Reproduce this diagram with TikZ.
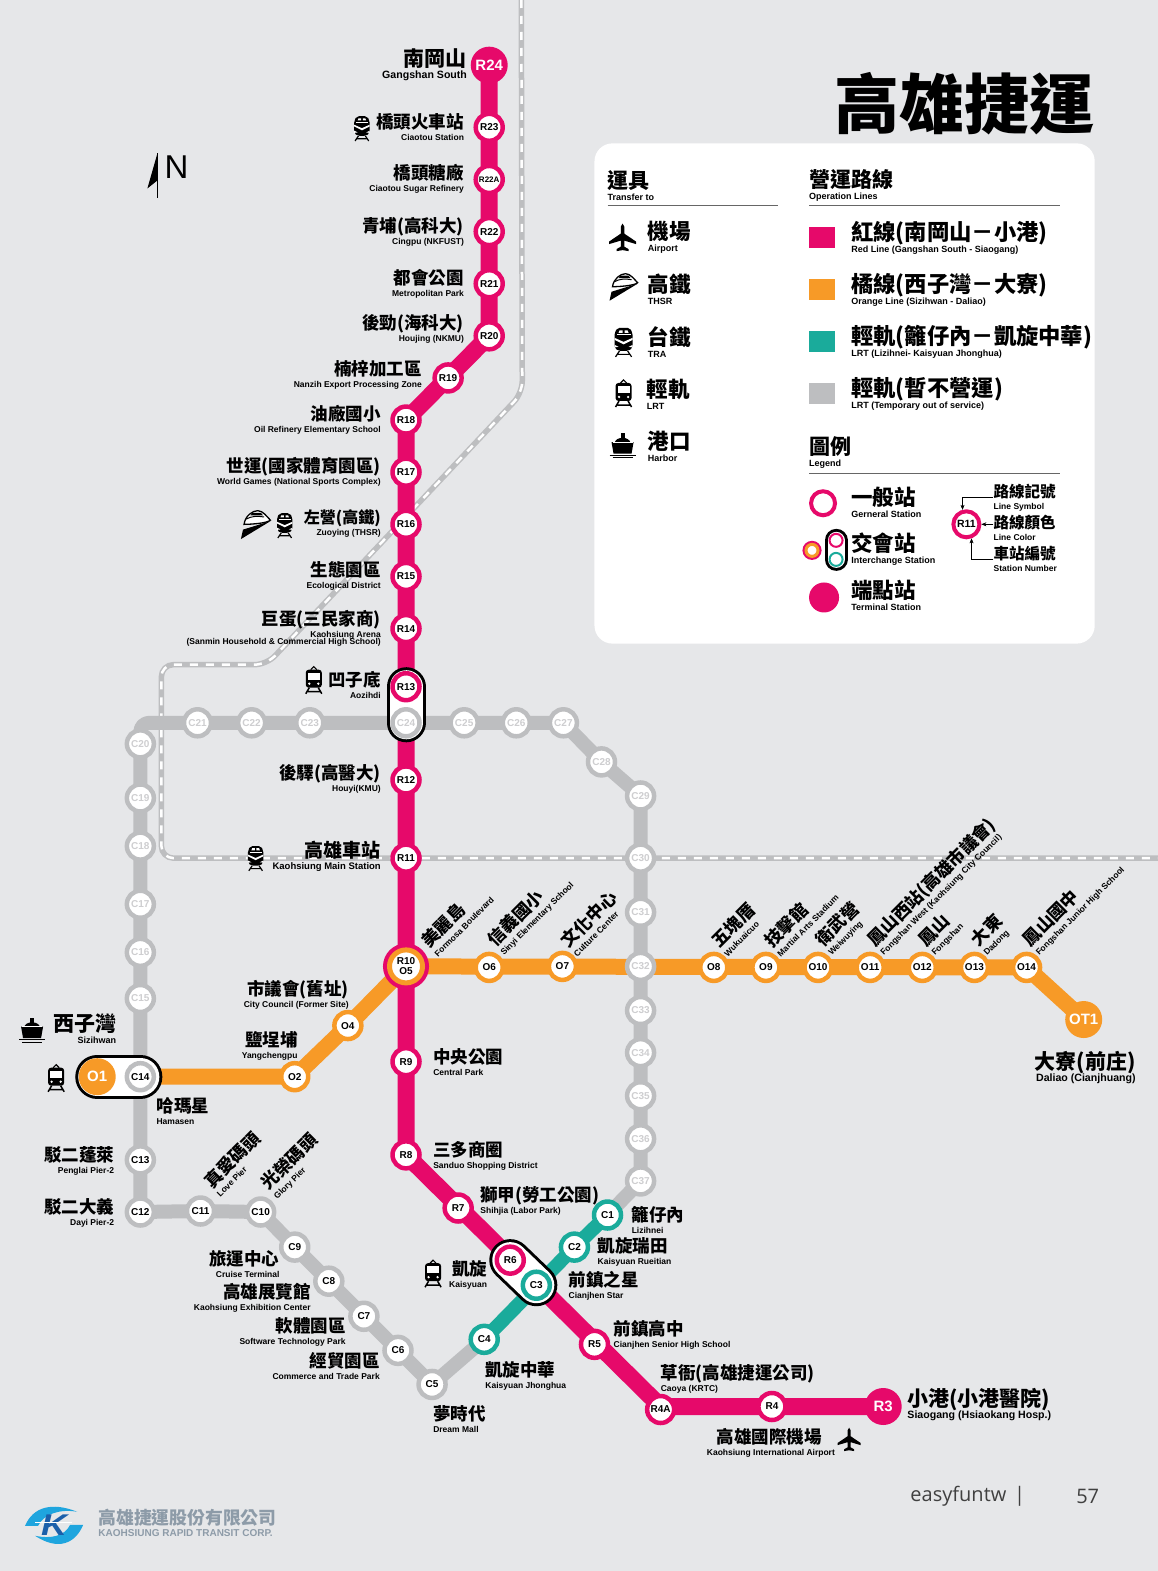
\documentclass[tikz,border=0pt]{standalone}
\usepackage{fontspec}
\setmainfont{Liberation Sans}
\newfontfamily\zhfont{Noto Sans CJK TC}
\newfontfamily\pagefont{Open Sans}
\usetikzlibrary{backgrounds,arrows.meta}
\definecolor{redc}{HTML}{E6096A}
\definecolor{orgc}{HTML}{F79A27}
\definecolor{tealc}{HTML}{1AAB9B}
\definecolor{grayc}{HTML}{BDBEC0}
\definecolor{pagec}{HTML}{E6E7E9}
\definecolor{logoc}{HTML}{8D9BA8}
\definecolor{logoa}{HTML}{1FA5DE}
\definecolor{logob}{HTML}{1B5FAA}
\newcommand{\zhpair}[5]{{\zhfont\bfseries\fontsize{#1}{#3}\selectfont #4}\\\fontsize{#2}{#3}\selectfont\bfseries #5}
\newcommand{\enline}{\\[-5pt]\fontsize{8.5}{12}\selectfont\bfseries}
\newcommand{\zhen}[2]{\zhpair{17.5}{8.5}{12}{#1}{#2}}
\newcommand{\zhbig}[2]{\zhpair{21.5}{9}{15}{#1}{#2}}
\newcommand{\zhlegend}[2]{\zhpair{21.5}{9}{16}{#1}{#2}}
\newcommand{\zhline}[2]{\zhpair{22.3}{9}{15}{#1}{#2}}
\newcommand{\zhlarge}[2]{\zhpair{21}{10.6}{12}{#1}{#2}}
\newcommand{\zhsmall}[2]{\zhpair{15.5}{8.5}{12}{#1}{#2}}
\tikzset{
  stbase/.style={circle, fill=white, inner sep=0pt, minimum size=27pt, line width=4.5pt,
    text=black, font=\fontsize{10}{10}\selectfont\bfseries},
  redst/.style={stbase, draw=redc},
  orgst/.style={stbase, draw=orgc},
  tealst/.style={stbase, draw=tealc},
  grayst/.style={stbase, draw=grayc},
  dimst/.style={grayst, text=grayc!75!white},
  endst/.style={circle, inner sep=0pt, minimum size=37pt, fill=#1, text=white,
    font=\fontsize{15}{16}\selectfont\bfseries},
  labr/.style={anchor=east, align=right, inner sep=0pt},
  labl/.style={anchor=west, align=left, inner sep=0pt},
  labt/.style={anchor=south west, align=left, inner sep=0pt, rotate=45},
  swatch/.style={minimum width=26pt, minimum height=21pt, inner sep=0pt, fill=#1},
  rule/.style={draw=black!60, line width=0.8pt},
  linestroke/.style={draw=#1, line join=round, rounded corners=9pt},
  capsule/.style={draw=black, line cap=round, line width=#1, postaction={draw=white, line width=#1-6}},
  traline/.style={draw=grayc, line width=5.5pt, rounded corners=12pt,
    postaction={draw=white, line width=2.5pt, dash pattern=on 8pt off 8pt}},
  planeicon/.pic={
    \fill (0,-14) -- (1.7,-11) -- (1.7,-4) -- (13.5,4) -- (13.5,6.5) -- (1.7,3) -- (1.7,9) -- (6,11.5) -- (6,13.5)
      -- (0,12.5) -- (-6,13.5) -- (-6,11.5) -- (-1.7,9) -- (-1.7,3) -- (-13.5,6.5) -- (-13.5,4) -- (-1.7,-4) -- (-1.7,-11) -- cycle;
  },
  thsricon/.pic={
    \draw[line width=1.3pt, fill=white] (-11,1) .. controls (-10,-7) and (-3,-12) .. (2,-12) .. controls (7,-12) and (11,-6) .. (14,-3) .. controls (11,0) and (-5,1) .. (-11,1) -- cycle;
    \draw[line width=1pt] (-9,-4) .. controls (-4,-7) and (2,-7) .. (8,-6);
    \fill (-3,-10) -- (5,-10) -- (7,-7.5) -- (-5,-7.5) -- cycle;
    \fill (-14,15) -- (-12,6) -- (14,-2) -- cycle;
  },
  traicon/.pic={
    \fill[rounded corners=2pt] (-6,-13) -- (6,-13) -- (9,-8) -- (9,7) -- (5,10) -- (-5,10) -- (-9,7) -- (-9,-8) -- cycle;
    \fill[white] (-7,-6.5) -- (7,-6.5) -- (7,-5.5) -- (-7,-5.5) -- cycle;
    \fill[white] (-4,-10.5) -- (-1,-10.5) -- (-1,-8) -- (-5,-8) -- cycle (4,-10.5) -- (1,-10.5) -- (1,-8) -- (5,-8) -- cycle;
    \fill[white] (-9,-3) -- (0,1) -- (9,-3) -- (9,-1) -- (0,3.5) -- (-9,-1) -- cycle;
    \fill[white] (-9,4) -- (-5,6) -- (-9,6.5) -- cycle (9,4) -- (5,6) -- (9,6.5) -- cycle;
    \draw[line width=1.2pt] (-4,10) -- (-8,16) (4,10) -- (8,16) (-6,13.5) -- (6,13.5);
  },
  lrticon/.pic={
    \fill[rounded corners=3pt] (-8,-10) rectangle (8,8);
    \draw[line width=1.1pt] (-3,-10) -- (0,-13) -- (3,-10);
    \fill[white] (-6,-7) rectangle (6,0);
    \fill[white] (-4.5,4) circle (1.3) (4.5,4) circle (1.3);
    \draw[line width=1.5pt] (-4.5,8) -- (-8,14) (4.5,8) -- (8,14) (-6,12) -- (6,12);
  },
  shipicon/.pic={
    \fill (-11,-3) -- (11,-3) -- (9,8.5) -- (-9,8.5) -- cycle;
    \fill (-8,-2) .. controls (-7,-9) and (7,-9) .. (8,-2) -- cycle;
    \fill (-2,-12) rectangle (2,-6);
    \draw[white, line width=.6pt] (-10,-3) -- (10,-3);
    \draw[line width=1pt] (-13,10) -- (13,10) (-10,12.5) -- (10,12.5);
  }
}
\begin{document}
\begin{tikzpicture}[x=1.0025pt, y=-1.0025pt]
  \useasboundingbox (0,0) rectangle (1155.1,1567.1);

  % red line
  \foreach \id/\px/\py in {R23/488/127,R22/488/231,R21/488/283,R20/488/335,R19/447/377,R18/405/419,
    R17/405/471,R16/405/523,R15/405/575,R14/405/627,R13/405/685,R12/405/778,R11/405/856,
    R9/405/1059,R8/405/1152,R7/457/1205,R6/509/1257,R5/593/1341,R4/770/1403}{
    \node[redst] (\id) at (\px,\py) {\id};
  }
  \node[redst, font=\fontsize{8}{8}\selectfont\bfseries] (R22A) at (488,179) {R22A};
  \node[redst] (R4A) at (659,1406) {R4A};
  \node[endst=redc] (R24) at (488,65) {R24};
  \node[endst=redc] (R3) at (881,1403) {R3};
  \node[orgst, minimum size=33pt, line width=5pt, align=center, preaction={draw=redc, line width=13pt},
    font=\fontsize{10}{10}\selectfont\bfseries] (R10) at (405,964) {R10\\O5};

  % orange line
  \foreach \id/\px/\py in {O2/294/1074,O4/347/1023,O6/488/965,O7/561/964,O8/712/965,O9/764/965,
    O10/816/965,O11/868/965,O12/920/965,O13/972/965,O14/1024/965}{
    \node[orgst] (\id) at (\px,\py) {\id};
  }
  \node[endst=orgc] (O1) at (97,1074) {O1};
  \node[endst=orgc] (OT1) at (1081,1017) {OT1};

  % light rail
  \foreach \id/\px/\py in {C1/606/1212,C2/573/1244,C3/535/1282,C4/483/1336}{
    \node[tealst] (\id) at (\px,\py) {\id};
  }
  \foreach \id/\px/\py in {C5/431/1381,C6/397/1347,C7/363/1313,C8/328/1278,C9/294/1244,C10/260/1209,
    C11/200/1208,C12/140/1209,C13/140/1157,C14/140/1074}{
    \node[grayst] (\id) at (\px,\py) {\id};
  }
  \foreach \id/\px/\py in {C15/140/996,C16/140/950,C17/140/902,C18/140/844,C19/140/796,C20/140/742,
    C21/197/721,C22/251/721,C23/309/721,C24/405/721,C25/463/721,C26/515/721,C27/562/721,C28/600/760,
    C29/639/794,C30/639/856,C31/639/910,C32/639/964,C33/639/1008,C34/639/1050,C35/639/1093,
    C36/639/1136,C37/639/1178}{
    \node[dimst] (\id) at (\px,\py) {\id};
  }

  % labels to the left of the stations
  \foreach \id/\px/\py/\zh/\en in {R23/463/126.5/橋頭火車站/Ciaotou Station,
    R22A/463/178.5/橋頭糖廠/Ciaotou Sugar Refinery,
    R22/463/231/青埔(高科大)/Cingpu (NKFUST),
    R21/463/283.5/都會公園/Metropolitan Park,
    R20/463/328.5/後勁(海科大)/Houjing (NKMU),
    R19/421/373.5/楠梓加工區/Nanzih Export Processing Zone,
    R18/380/418.5/油廠國小/Oil Refinery Elementary School,
    R17/380/470.5/世運(國家體育園區)/World Games (National Sports Complex),
    R15/380/574.5/生態園區/Ecological District,
    R13/380/683.5/凹子底/Aozihdi,
    R12/380/776.5/後驛(高醫大)/Houyi(KMU),
    O4/348/992.5/市議會(舊址)/City Council (Former Site),
    O2/297/1043.5/鹽埕埔/Yangchengpu,
    C13/114/1158.5/駁二蓬萊/Penglai Pier-2,
    C12/114/1209.5/駁二大義/Dayi Pier-2,
    C9/279/1260.5/旅運中心/Cruise Terminal,
    C8/310/1294.5/高雄展覽館/Kaohsiung Exhibition Center,
    C7/345/1328.5/軟體園區/Software Technology Park,
    C6/379/1362.5/經貿園區/Commerce and Trade Park,
    R6/486/1271.5/凱旋/Kaisyuan}{
    \node[labr] (t\id) at (\px,\py) {\zhen{\zh}{\en}};
  }
  \node[labr] (tR16) at (380,522.5) {\zhpair{16}{8.5}{12}{左營(高鐵)}{Zuoying (THSR)}};
  \node[labr] (tR11) at (380,854.5) {\zhpair{19}{9.5}{12}{高雄車站}{Kaohsiung Main Station}};
  \node[labr] (tR4) at (833,1439.5) {\zhpair{17.5}{8.5}{12}{高雄國際機場\hspace*{13pt}}{Kaohsiung International Airport}};
  \node[labr] (tR14) at (380,626.5) {\zhpair{17.5}{8.5}{12}{巨蛋(三民家商)}{Kaohsiung Arena\hspace*{5pt}\enline (Sanmin Household \& Commercial High School)}};
  \node[labr] (tR24) at (466,64.5) {\zhlarge{南岡山}{Gangshan South}};
  \node[labr] (tO1) at (116,1026.5) {\zhpair{21}{9}{12}{西子灣}{Sizihwan}};
  \node[labr] (tOT1) at (1133,1065) {\zhlarge{大寮(前庄)}{Daliao (Cianjhuang)}};

  % labels to the right of the stations
  \foreach \id/\px/\py/\zh/\en in {R9/432/1059.5/中央公園/Central Park,
    R8/432/1152.5/三多商圈/Sanduo Shopping District,
    R7/479/1197.5/獅甲(勞工公園)/Shihjia (Labor Park),
    C14/156/1108.5/哈瑪星/Hamasen,
    C1/630/1217/籬仔內/Lizihnei,
    C2/596/1248.5/凱旋瑞田/Kaisyuan Rueitian,
    C3/567/1282.5/前鎮之星/Cianjhen Star,
    R5/612/1331.5/前鎮高中/Cianjhen Senior High School,
    R4A/659/1375.5/草衙(高雄捷運公司)/Caoya (KRTC),
    C4/484/1372.5/凱旋中華/Kaisyuan Jhonghua,
    C5/432/1415.5/夢時代/Dream Mall}{
    \node[labl] (t\id) at (\px,\py) {\zhen{\zh}{\en}};
  }
  \node[labl] (tR3) at (905,1401) {\zhlarge{小港(小港醫院)}{Siaogang (Hsiaokang Hosp.)}};

  % slanted labels
  \foreach \id/\px/\py/\zh/\en in {O5/437/955/美麗島/Formosa Boulevard,
    O6/504/955/信義國小/Sinyi Elementary School,
    O7/576/955/文化中心/Culture Center,
    O8/726/955/五塊厝/Wukuaicuo,
    O9/779/955/技擊館/Martial Arts Stadium,
    O10/831/955/衛武營/Weiwuying,
    O11/883/955/鳳山西站(高雄市議會)/Fongshan West (Kaohsiung City Council),
    O12/934/955/鳳山/Fongshan,
    O13/986/955/大東/Dadong,
    O14/1038/955/鳳山國中/Fongshan Junior High School,
    C11/220/1195/真愛碼頭/Love Pier,
    C10/278/1198/光榮碼頭/Glory Pier}{
    \node[labt] (t\id) at (\px,\py) {\zhen{\zh}{\en}};
  }

  % icons along the lines
  \pic[scale=.85] at (361,127) {traicon};
  \pic[scale=.85] at (284,523) {traicon};
  \pic[scale=1.05] at (255,522) {thsricon};
  \pic[scale=.85] at (255,855) {traicon};
  \pic at (313,678) {lrticon};
  \pic at (56,1075) {lrticon};
  \pic at (32,1027) {shipicon};
  \pic at (432,1270) {lrticon};
  \pic[scale=.85] at (847,1436) {planeicon};

  % title and north
  \node[inner sep=0pt, font=\zhfont\bfseries\fontsize{65}{66}\selectfont] (title) at (962,103) {高雄捷運};
  \coordinate (ntip) at (157,153);
  \coordinate (nend) at (157,198);
  \fill (ntip) -- (147,188) -- (157,180) -- cycle;
  \draw[line width=1.2pt] (ntip) -- (nend);
  \node[inner sep=0pt, font=\fontsize{33}{33}\selectfont] (nlabel) at (176,167) {N};

  % legend, first column
  \node[labl] (hTransfer) at (606,185) {\zhpair{21}{9}{12}{運具}{Transfer to}};
  \foreach \id/\px/\py/\zh/\en in {air/646/237/機場/Airport,thsr/646/289/高鐵/THSR,tra/646/341/台鐵/TRA,
    lrt/645/393/輕軌/LRT,port/646/445/港口/Harbor}{
    \node[labl] (k\id) at (\px,\py) {\zhbig{\zh}{\en}};
  }
  \pic at (621,237) {planeicon};
  \pic at (622,285) {thsricon};
  \pic at (622,340) {traicon};
  \pic at (622,392) {lrticon};
  \pic at (621,444) {shipicon};

  % legend, second column
  \node[labl] (hLines) at (807,185) {\zhpair{21}{9}{12}{營運路線}{Operation Lines}};
  \foreach \id/\col/\py/\zh/\en in {red/redc/237/紅線(南岡山－小港)/Red Line (Gangshan South - Siaogang),
    org/orgc/289/橘線(西子灣－大寮)/Orange Line (Sizihwan - Daliao),
    teal/tealc/341/輕軌(籬仔內－凱旋中華)/LRT (Lizihnei- Kaisyuan Jhonghua),
    gray/grayc/393/輕軌(暫不營運)/LRT (Temporary out of service)}{
    \node[swatch=\col] (sw\id) at (820,\py) {};
    \node[labl] (l\id) at (849,\py) {\zhline{\zh}{\en}};
  }
  \node[labl] (hLegend) at (807,451) {\zhpair{21}{9}{12}{圖例}{Legend}};

  \node[circle, draw=redc, line width=4pt, minimum size=24pt, inner sep=0pt] (kGeneral) at (821,502) {};
  \node[labl] (tGeneral) at (849,501) {\zhlegend{一般站}{Gerneral Station}};
  \node[circle, draw=orgc, fill=white, line width=3pt, minimum size=12pt, inner sep=0pt,
    preaction={draw=redc, line width=7pt}] (kSwap) at (810,549) {};
  \node[circle, draw=redc, fill=white, line width=2pt, minimum size=13pt, inner sep=0pt] (kUp) at (834,539) {};
  \node[circle, draw=tealc, fill=white, line width=2pt, minimum size=13pt, inner sep=0pt] (kDown) at (834,558) {};
  \node[labl] (tSwap) at (849,548) {\zhlegend{交會站}{Interchange Station}};
  \node[circle, fill=redc, minimum size=30pt, inner sep=0pt] (kEnd) at (822,596) {};
  \node[labl] (tEnd) at (849,594) {\zhlegend{端點站}{Terminal Station}};

  \node[redst, minimum size=26pt, line width=4pt, font=\fontsize{10.5}{11}\selectfont\bfseries] (kSample) at (964,523) {R11};
  \node[labl] (kSym) at (991,496) {\zhsmall{路線記號}{Line Symbol}};
  \node[labl] (kCol) at (991,527) {\zhsmall{路線顏色}{Line Color}};
  \node[labl] (kNum) at (991,558) {\zhsmall{車站編號}{Station Number}};
  \draw[-{Stealth[length=5pt,width=4pt]}] (kSym.west) -| (kSample.105);
  \draw[-{Stealth[length=5pt,width=4pt]}] (kCol.west |- kSample) -- (kSample.east);
  \draw[-{Stealth[length=5pt,width=4pt]}] (kNum.west) -| (kSample.-70);

  % footer
  \node[anchor=west, inner sep=0pt, text=black!75, font=\pagefont\fontsize{20}{22}\selectfont] (pname) at (908,1493) {easyfuntw};
  \node[inner sep=0pt, text=black!75, font=\pagefont\fontsize{20}{22}\selectfont] (pbar) at (1017,1493) {|};
  \node[inner sep=0pt, text=black!75, font=\pagefont\fontsize{20}{22}\selectfont] (pnum) at (1085,1493) {57};
  \node[anchor=west, inner sep=0pt, text=logoc, font=\zhfont\bfseries\fontsize{17.8}{18}\selectfont] (lname) at (98,1514) {高雄捷運股份有限公司};
  \node[anchor=west, inner sep=0pt, text=logoc, font=\bfseries\fontsize{10}{10}\selectfont] (lcorp) at (98,1529) {KAOHSIUNG RAPID TRANSIT CORP.};
  \fill[logoa] (25,1522) .. controls (33,1503) and (52,1498) .. (77,1508) .. controls (60,1505) and (44,1510) .. (38,1522) -- cycle;
  \fill[logoa] (83,1521) .. controls (75,1540) and (58,1547) .. (35,1532) .. controls (50,1535) and (64,1533) .. (70,1521) -- cycle;
  \node[inner sep=0pt, text=logob, font=\bfseries\itshape\fontsize{30}{30}\selectfont] (lk) at (54,1521) {\scalebox{1.2}[1]{K}};
  \draw[white, line width=.9pt] (35,1519) -- (72,1519);

  \begin{scope}[on background layer]
    \fill[pagec] (0,0) rectangle (1155.1,1567.1);
    \fill[white, rounded corners=18pt] (593,143) rectangle (1092,642);
    \draw[rule] (606,205) -- (776,205);
    \draw[rule] (807,205) -- (1057,205);
    \draw[rule] (807,472) -- (1057,472);

    \coordinate (traA) at (520,0);
    \coordinate (traB) at (521,392);
    \coordinate (traC) at (266,663);
    \coordinate (traD) at (161,663);
    \coordinate (traE) at (161,856);
    \coordinate (traF) at (1155.1,856);
    \draw[traline] (traA) -- (traB) -- (traC) -- (traD) -- (traE) -- (traF);

    \draw[linestroke=grayc, line width=14pt] (C10.center) -- (C9.center) -- (C8.center) -- (C7.center) -- (C6.center) -- (C5.center) -- (C4.center);
    \draw[linestroke=grayc, line width=14pt] (C10.center) -- (C11.center) -- (C12.center) -- (C13.center) -- (C14.center) -- (C20.center) -- (C20.center |- C21.center) -- (C21.center) -- (C27.center) -- (C28.center) -- (C29.center) -- (C37.center) -- (C1.center);
    \draw[linestroke=tealc, line width=14pt] (C1.center) -- (C2.center) -- (C4.center);
    \draw[linestroke=orgc, line width=16pt] (O1.center) -- (O2.center) -- (O4.center) -- (R10.center) -- (O14.center) -- (OT1.center);
    \draw[linestroke=redc, line width=17pt] (R24.center) -- (R20.center) -- (R18.center) -- (R8.center) -- (R4A.center |- R4.center) -- (R3.center);

    \draw[capsule=39] (R13.center) -- (C24.center);
    \draw[capsule=44] (O1.center) -- (C14.center);
    \draw[capsule=42] (R6.center) -- (C3.center);
    \draw[capsule=23] (kUp.center) -- (kDown.center);
  \end{scope}
\end{tikzpicture}
\end{document}
